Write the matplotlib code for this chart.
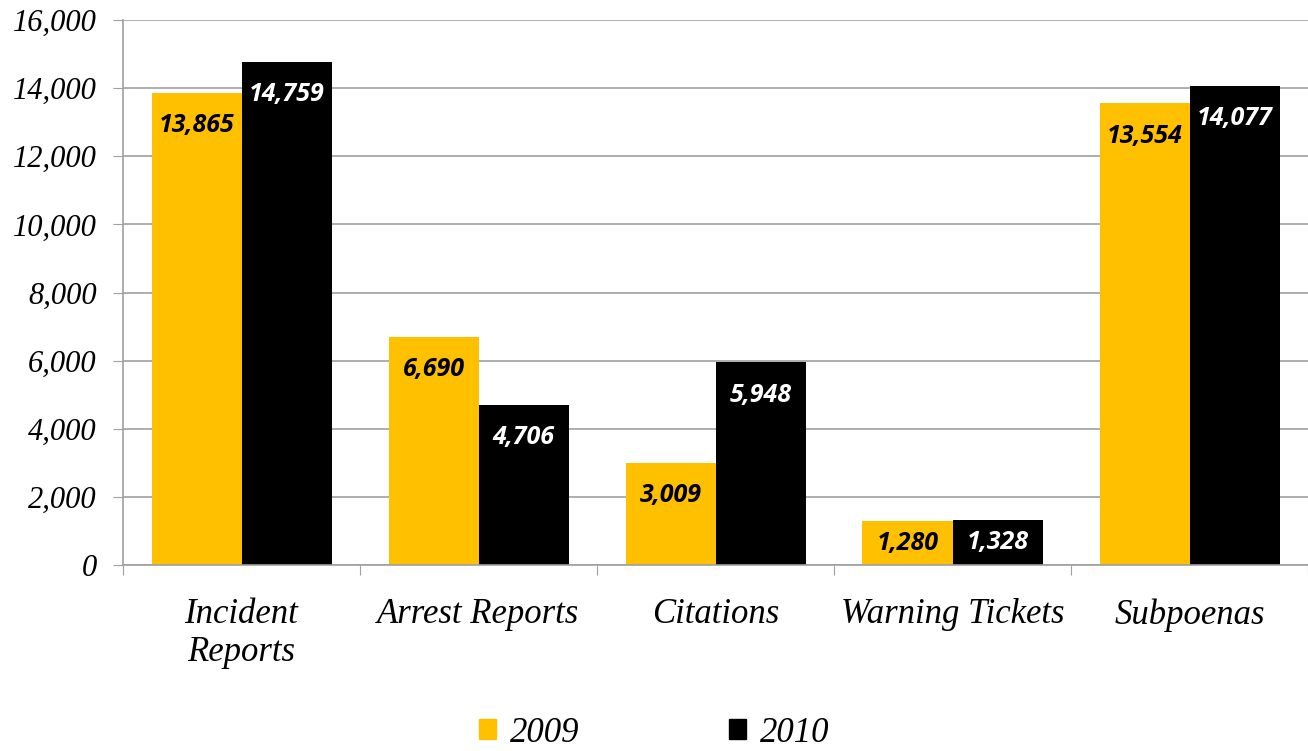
import numpy as np
import matplotlib.pyplot as plt
from matplotlib.patches import Patch
from matplotlib.ticker import FuncFormatter

# Data.
categories = ['Incident\nReports', 'Arrest Reports', 'Citations',
              'Warning Tickets', 'Subpoenas']
years = ['2009', '2010']
values_2009 = [13865, 6690, 3009, 1280, 13554]
values_2010 = [14759, 4706, 5948, 1328, 14077]
yticks = np.arange(0, 16001, 2000)

colors = ['#FFC000', '#000000']
label_colors = ['#000000', '#FFFFFF']
serif = 'Liberation Serif'
sans = 'Open Sans'

fig = plt.figure(figsize=(13.08, 7.51), dpi=100)
ax = fig.add_axes([123 / 1308, 1 - 565 / 751, 1 - 123 / 1308, 545 / 751])

x = np.arange(len(categories))
width = 90 / 237
for jj, vals in enumerate([values_2009, values_2010]):
    pos = x + (jj - 0.5) * width
    ax.bar(pos, vals, width=width, color=colors[jj], zorder=2)
    # Value labels sit just inside the bar top (centre for short bars).
    for xx, vv in zip(pos, vals):
        yy = max(vv - 960, vv / 2)
        ax.text(xx, yy, f'{vv:,}', ha='center', va='center',
                color=label_colors[jj], fontfamily=sans, fontsize=18,
                fontweight='bold', fontstyle='italic', zorder=3)

ax.set_xlim(-0.5, len(categories) - 0.5)
ax.set_ylim(0, 16000)
ax.set_yticks(yticks)
ax.yaxis.set_major_formatter(FuncFormatter(lambda v, p: f'{int(v):,}'))
ax.grid(axis='y', color='#A0A0A0', linewidth=1.2, zorder=0)

# Category ticks sit on the boundaries, labels in the middle.
ax.set_xticks(np.arange(len(categories) + 1) - 0.5)
ax.set_xticklabels([])
ax.set_xticks(x, minor=True)
ax.set_xticklabels(categories, minor=True, fontfamily=serif,
                   fontstyle='italic', fontsize=25, linespacing=1.2)
ax.tick_params(axis='x', which='minor', length=0, pad=24)
ax.tick_params(axis='x', which='major', length=7, color='#A0A0A0')
ax.tick_params(axis='y', length=7, color='#A0A0A0', pad=12)
for lab in ax.get_yticklabels():
    lab.set_fontfamily(serif)
    lab.set_fontstyle('italic')
    lab.set_fontsize(22)

for side in ['top', 'right']:
    ax.spines[side].set_visible(False)
for side in ['left', 'bottom']:
    ax.spines[side].set_color('#A0A0A0')
    ax.spines[side].set_linewidth(1.2)

handles = [Patch(color=c) for c in colors]
fig.legend(handles, years, loc='center', bbox_to_anchor=(0.5, 1 - 733 / 751),
           ncol=2, frameon=False, handlelength=0.5, handleheight=0.5,
           handletextpad=0.4, columnspacing=4.3,
           prop={'family': serif, 'style': 'italic', 'size': 25})

fig.savefig('out.png', dpi=100)
